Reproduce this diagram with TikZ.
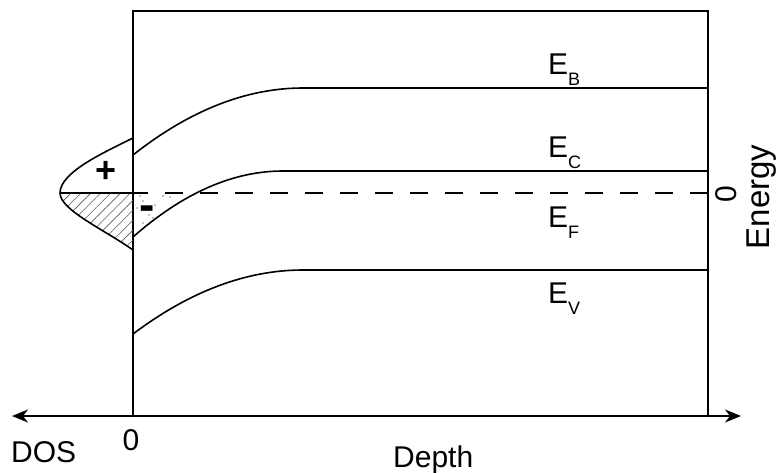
\documentclass[tikz,border=0pt]{standalone}
\usepackage{fontspec}
\setmainfont{Liberation Sans}
\usetikzlibrary{arrows.meta,patterns.meta}

\newcommand\lvsub[1]{\raisebox{-11pt}{\fontsize{18}{20}\selectfont #1}}

\begin{document}
\begin{tikzpicture}[x=1pt, y=-1pt,
  band/.style={line width=1.6pt},
  frame/.style={line width=1.6pt},
  lbl/.style={font=\fontsize{30}{36}\selectfont, inner sep=0pt, anchor=base west},
  hatch/.style={pattern={Lines[angle=45, distance=7pt, line width=0.6pt]}, pattern color=black!65},
  axis/.style={{Stealth[length=16pt, width=13pt, inset=5pt]}-{Stealth[length=16pt, width=13pt, inset=5pt]}, line width=1.6pt}
]
\useasboundingbox (0,0) rectangle (782,472);

\coordinate (origin) at (133,416);
\coordinate (topleft) at (133,11);
\coordinate (topright) at (708,11);
\coordinate (botright) at (708,416);
\coordinate (dosend) at (12,416);
\coordinate (depthend) at (741,416);

\draw[frame] (origin) -- (topleft) -- (topright) -- (botright);
\draw[axis] (dosend) -- (depthend);

\foreach \ya/\yb/\w in {155/88/170, 237/171/150, 334/270/170}
  \draw[band] (133,\ya) .. controls ({133+\w/3},{\ya+2*(\yb-\ya)/3}) and ({133+2*\w/3},\yb) .. ({133+\w},\yb) -- (708,\yb);

\fill[hatch] (60,193) -- (133,193) -- (133,250) .. controls (105,230) and (60,210) .. (60,193) -- cycle;
\draw[band] (133,138) .. controls (105,152) and (60,172) .. (60,193) .. controls (60,210) and (105,230) .. (133,250);
\coordinate (dostip) at (60,193);
\coordinate (fermi0) at (133,193);
\coordinate (fermi1) at (708,193);
\draw[band] (dostip) -- (fermi0);
\draw[band, dash pattern=on 18pt off 17pt, dash phase=3pt] (fermi0) -- (fermi1);

\foreach \p in {(140,196),(143,201),(155,205),(163,196),(170,197),(149,215),(153,218),(143,223),(137,208)}
  \fill \p circle (0.7);

\node[font=\bfseries\fontsize{36}{42}\selectfont, inner sep=0pt] (plus) at (106,172) {+};
\node[font=\bfseries\fontsize{46}{52}\selectfont, inner sep=0pt, anchor=base] (minus) at (147,220) {-};

\node[lbl] (eb) at (548,74) {E\lvsub{B}};
\node[lbl] (ec) at (548,157) {E\lvsub{C}};
\node[lbl] (ef) at (548,227) {E\lvsub{F}};
\node[lbl] (ev) at (548,303) {E\lvsub{V}};

\node[lbl] (dos) at (11,462) {DOS};
\node[lbl, anchor=base] (zero) at (131,450) {0};
\node[lbl] (depth) at (393,467) {Depth};
\node[lbl, anchor=center, rotate=90] (ezero) at (726,194) {0};
\node[lbl, anchor=center, rotate=90, font=\fontsize{33}{38}\selectfont] (energy) at (762,197) {Energy};
\end{tikzpicture}
\end{document}
